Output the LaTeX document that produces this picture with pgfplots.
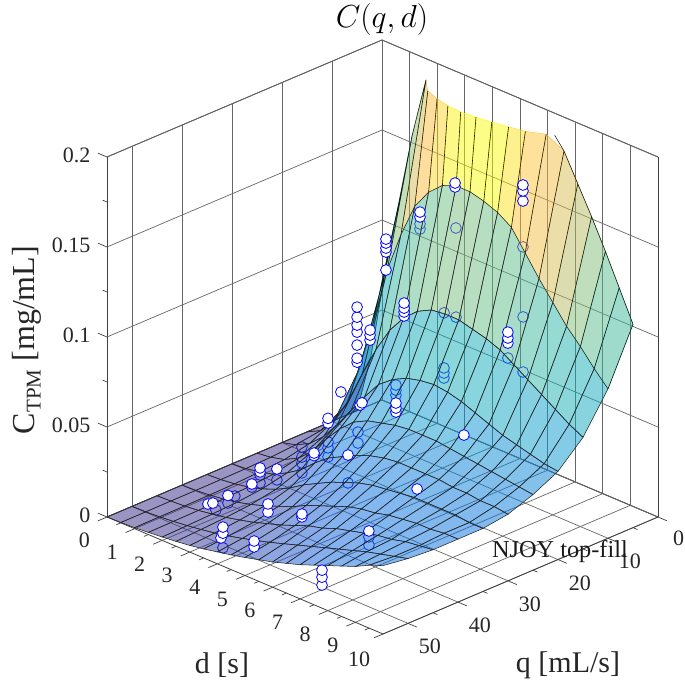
\documentclass[border=0pt]{standalone}
\usepackage{fontspec}
\setmainfont{Liberation Serif}
\usepackage{pgfplots}
\pgfplotsset{compat=1.18}
\pgfplotsset{
  colormap={parula}{rgb(0)=(0.2081,0.1663,0.5292) rgb(11)=(0.0591,0.3598,0.8683)
    rgb(16)=(0.0165,0.4266,0.8786) rgb(33)=(0.0343,0.5966,0.8199) rgb(52)=(0.0843,0.6928,0.7062)
    rgb(78)=(0.3953,0.7459,0.5244) rgb(91)=(0.7525,0.7384,0.3768) rgb(106)=(0.9938,0.7455,0.2403)
    rgb(126)=(0.9763,0.9831,0.0538)},
  dots/.style={only marks, mark=*, mark size=5.4pt,
    mark options={fill=white, draw=blue, line width=0.8pt}},
  dotsback/.style={only marks, mark=*, mark size=5.4pt,
    mark options={fill=white, draw=blue, line width=0.8pt}},
}
\tikzset{tk/.style={black!75, line width=0.7pt}}
\begin{document}
\begin{tikzpicture}
\path[use as bounding box] (0pt,0pt) rectangle (685pt,681pt);
\begin{axis}[
    at={(382pt,281pt)},
    anchor=origin,
    x={(-5pt,-2.127pt)},
    y={(27.6pt,-11.7pt)},
    z={(0pt,1800pt)},
    xmin=0, xmax=55, ymin=0, ymax=10, zmin=0, zmax=0.2,
    clip=false,
    clip marker paths=true,
    grid=major,
    major grid style={black!60, line width=0.7pt},
    axis line style={black!75, line width=0.8pt},
    tick style={draw=none},
    major tick length=0pt,
    minor tick length=0pt,
    xtick={0,10,...,50},
    ytick={0,1,...,10},
    ztick={0,0.05,0.1,0.15,0.2},
    zticklabels={0,0.05,0.1,0.15,0.2},
    scaled z ticks=false,
    /pgf/number format/assume math mode=true,
    ticklabel style={font=\fontsize{22}{24}\selectfont, text=black!85},
    xticklabel style={xshift=13pt, yshift=-10pt},
    yticklabel style={xshift=-15pt, yshift=-12pt},
    zticklabel style={xshift=-13pt, yshift=1.5pt},
    point meta min=0,
    point meta max=0.25,
    colormap name=parula,
]
% tick marks on the front edges only
\pgfplotsinvokeforeach{0,10,20,30,40,50}{\draw[tk] (axis cs:#1,10,0) -- (axis cs:#1,10.32,0);}
\pgfplotsinvokeforeach{5,15,25,35,45}{\draw[tk] (axis cs:#1,10,0) -- (axis cs:#1,10.16,0);}
\pgfplotsinvokeforeach{0,1,2,3,4,5,6,7,8,9,10}{\draw[tk] (axis cs:55,#1,0) -- (axis cs:56.8,#1,0);}
\pgfplotsinvokeforeach{0.5,1.5,2.5,3.5,4.5,5.5,6.5,7.5,8.5,9.5}{\draw[tk] (axis cs:55,#1,0) -- (axis cs:55.9,#1,0);}
\pgfplotsinvokeforeach{0,0.05,0.1,0.15,0.2}{\draw[tk] (axis cs:55,0,#1) -- (axis cs:55,-0.33,#1);}
\pgfplotsinvokeforeach{0.025,0.075,0.125,0.175}{\draw[tk] (axis cs:55,0,#1) -- (axis cs:55,-0.16,#1);}
% circles under the surface
\addplot3[dotsback] table[x=q,y=d,z=c] {
q d c
11 7.1 0.1442
11 3.37 0.1299
11 3.37 0.1327
11 4.67 0.1389
16.5 5.24 0.102
16.5 5.67 0.1024
16.5 7.55 0.0919
16.5 8.1 0.0877
16.5 8.1 0.1183
22 6.23 0.0787
22 6.23 0.0815
22 6.23 0.0843
22 4.49 0.0579
22 4.49 0.0607
22 4.49 0.0635
27.5 4.11 0.0353
27.5 4.11 0.0414
27.5 3.75 0.0108
38.5 6.5 0.0072
38.5 6.5 0.0117
22 2.03 0.0076
22 2.03 0.0126
22 2.03 0.0159
27.5 2.08 0.0055
27.5 2.08 0.011
27.5 2.08 0.0143
27.5 2.08 0.0199
33 2.17 0.0087
33 1.56 0.0031
33 1.56 0.0075
38.5 2.26 0.0118
44 2.64 0.0158
44 2.39 0.0103
49.5 2.95 0.0166
55 4.2 0.0102
};
% band next to the lowest flow, cut off at the top of the axis
\addplot3[surf, shader=flat corner, draw=none, fill opacity=0.5, point meta=explicit, mesh/ordering=y varies]
  table[x=q,y=d,z=z,meta=c] {
q d z c
5 0 0 0
5 0.5 0.033 0.033
5 1 0.082 0.082
5 1.5 0.124 0.124
5 2 0.166 0.166
5 2.5 0.2 0.19
7.4 3 0.2 0.21
8.3 3.5 0.2 0.225
8.9 4 0.2 0.245
9.1 4.5 0.2 0.25
8.8 5 0.2 0.25
8.4 5.5 0.2 0.25
7.8 6 0.2 0.235
7.2 6.5 0.2 0.215
5.8 7 0.2 0.205
5 7.5 0.193 0.193
5 8 0.178 0.178
5 8.5 0.163 0.163
5 9 0.147 0.147
5 9.5 0.13 0.13
5 10 0.113 0.113

10 0 0 0
10 0.5 0.012 0.012
10 1 0.036 0.036
10 1.5 0.065 0.065
10 2 0.097 0.097
10 2.5 0.12 0.12
10 3 0.139 0.139
10 3.5 0.15 0.15
10 4 0.157 0.157
10 4.5 0.16 0.16
10 5 0.16 0.16
10 5.5 0.158 0.158
10 6 0.155 0.155
10 6.5 0.15 0.15
10 7 0.139 0.139
10 7.5 0.128 0.128
10 8 0.118 0.118
10 8.5 0.108 0.108
10 9 0.1 0.1
10 9.5 0.091 0.091
10 10 0.083 0.083
};
% mesh lines of that band, without its cut edge
\addplot3[black, line width=0.6pt, empty line=jump, opacity=0.85] table[x=q,y=d,z=z] {
q d z
10 0 0
5 0 0
5 0.5 0.033
5 1 0.082
5 1.5 0.124
5 2 0.166
5 2.5 0.2

10 0.5 0.012
5 0.5 0.033

10 1 0.036
5 1 0.082

10 1.5 0.065
5 1.5 0.124

10 2 0.097
5 2 0.166

10 2.5 0.12
5 2.5 0.2

10 3 0.139
7.4 3 0.2

10 3.5 0.15
8.3 3.5 0.2

10 4 0.157
8.9 4 0.2

10 4.5 0.16
9.1 4.5 0.2

10 5 0.16
8.8 5 0.2

10 5.5 0.158
8.4 5.5 0.2

10 6 0.155
7.8 6 0.2

10 6.5 0.15
7.2 6.5 0.2

10 7 0.139
5.8 7 0.2

5.2 7.2 0.2
5 7.5 0.193
5 8 0.178
5 8.5 0.163
5 9 0.147
5 9.5 0.13
5 10 0.113
10 10 0.083

10 7.5 0.128
5 7.5 0.193

10 8 0.118
5 8 0.178

10 8.5 0.108
5 8.5 0.163

10 9 0.1
5 9 0.147

10 9.5 0.091
5 9.5 0.13
};
% rest of the surface
\addplot3[surf, shader=flat corner, draw=black!85, line width=0.55pt, fill opacity=0.5, point meta=z, mesh/ordering=y varies]
  table[x=q,y=d,z=z] {
q d z
10 0 0
10 0.5 0.012
10 1 0.036
10 1.5 0.065
10 2 0.097
10 2.5 0.12
10 3 0.139
10 3.5 0.15
10 4 0.157
10 4.5 0.16
10 5 0.16
10 5.5 0.158
10 6 0.155
10 6.5 0.15
10 7 0.139
10 7.5 0.128
10 8 0.118
10 8.5 0.108
10 9 0.1
10 9.5 0.091
10 10 0.083

15 0 0
15 0.5 0.004
15 1 0.013
15 1.5 0.027
15 2 0.045
15 2.5 0.062
15 3 0.076
15 3.5 0.086
15 4 0.093
15 4.5 0.097
15 5 0.098
15 5.5 0.098
15 6 0.096
15 6.5 0.094
15 7 0.091
15 7.5 0.086
15 8 0.081
15 8.5 0.076
15 9 0.071
15 9.5 0.066
15 10 0.062

20 0 0
20 0.5 0.002
20 1 0.006
20 1.5 0.013
20 2 0.023
20 2.5 0.034
20 3 0.045
20 3.5 0.055
20 4 0.061
20 4.5 0.065
20 5 0.067
20 5.5 0.068
20 6 0.067
20 6.5 0.065
20 7 0.062
20 7.5 0.059
20 8 0.056
20 8.5 0.054
20 9 0.052
20 9.5 0.05
20 10 0.049

25 0 0
25 0.5 0.001
25 1 0.003
25 1.5 0.007
25 2 0.014
25 2.5 0.024
25 3 0.033
25 3.5 0.04
25 4 0.044
25 4.5 0.046
25 5 0.048
25 5.5 0.049
25 6 0.049
25 6.5 0.049
25 7 0.048
25 7.5 0.047
25 8 0.046
25 8.5 0.045
25 9 0.044
25 9.5 0.043
25 10 0.042

30 0 0
30 0.5 0.0006
30 1 0.002
30 1.5 0.004
30 2 0.008
30 2.5 0.013
30 3 0.02
30 3.5 0.026
30 4 0.03
30 4.5 0.034
30 5 0.037
30 5.5 0.039
30 6 0.04
30 6.5 0.04
30 7 0.04
30 7.5 0.04
30 8 0.039
30 8.5 0.039
30 9 0.038
30 9.5 0.038
30 10 0.037

35 0 0
35 0.5 0.0004
35 1 0.0013
35 1.5 0.0028
35 2 0.005
35 2.5 0.008
35 3 0.012
35 3.5 0.017
35 4 0.021
35 4.5 0.025
35 5 0.028
35 5.5 0.031
35 6 0.033
35 6.5 0.034
35 7 0.035
35 7.5 0.036
35 8 0.036
35 8.5 0.036
35 9 0.036
35 9.5 0.035
35 10 0.035

40 0 0
40 0.5 0.0003
40 1 0.001
40 1.5 0.002
40 2 0.0035
40 2.5 0.0055
40 3 0.008
40 3.5 0.011
40 4 0.014
40 4.5 0.018
40 5 0.021
40 5.5 0.024
40 6 0.027
40 6.5 0.029
40 7 0.03
40 7.5 0.032
40 8 0.033
40 8.5 0.034
40 9 0.034
40 9.5 0.035
40 10 0.035

45 0 0
45 0.5 0.0003
45 1 0.0008
45 1.5 0.0016
45 2 0.0028
45 2.5 0.0042
45 3 0.006
45 3.5 0.008
45 4 0.0105
45 4.5 0.013
45 5 0.016
45 5.5 0.019
45 6 0.021
45 6.5 0.024
45 7 0.026
45 7.5 0.028
45 8 0.03
45 8.5 0.031
45 9 0.033
45 9.5 0.034
45 10 0.035

50 0 0
50 0.5 0.0002
50 1 0.0007
50 1.5 0.0014
50 2 0.0023
50 2.5 0.0034
50 3 0.0047
50 3.5 0.0063
50 4 0.0082
50 4.5 0.0103
50 5 0.0125
50 5.5 0.015
50 6 0.0175
50 6.5 0.02
50 7 0.0225
50 7.5 0.025
50 8 0.0275
50 8.5 0.03
50 9 0.032
50 9.5 0.034
50 10 0.036

55 0 0
55 0.5 0.0002
55 1 0.0006
55 1.5 0.0012
55 2 0.0019
55 2.5 0.0027
55 3 0.0037
55 3.5 0.005
55 4 0.0066
55 4.5 0.0082
55 5 0.01
55 5.5 0.012
55 6 0.014
55 6.5 0.0165
55 7 0.019
55 7.5 0.022
55 8 0.025
55 8.5 0.028
55 9 0.031
55 9.5 0.035
55 10 0.038
};
% circles in front of the surface
\addplot3[dots] table[x=q,y=d,z=c] {
q d c
11 4.64 0.1615
11 4.64 0.1637
11 7.1 0.1697
11 7.1 0.1753
11 7.1 0.1786
11 3.37 0.1366
11 3.37 0.1393
5.5 1.14 0.0861
5.5 1.14 0.0961
5.5 1.14 0.0983
5.5 1.14 0.1011
5.5 1.14 0.1033
11 1.09 0.0411
11 1.09 0.0433
11 1.09 0.0506
11 1.09 0.0578
11 1.09 0.0617
11 1.09 0.0661
11 1.09 0.0717
11 1.56 0.0564
11 1.56 0.0592
11 1.56 0.062
16.5 3.79 0.0908
16.5 3.79 0.093
16.5 3.79 0.0952
16.5 3.79 0.098
16.5 7.55 0.1002
16.5 7.55 0.103
16.5 7.55 0.1063
22 4.49 0.0485
22 4.49 0.0507
22 4.49 0.0535
22 3.19 0.0439
22 3.26 0.0456
27.5 7.95 0.0647
27.5 3.75 0.0263
33 7.25 0.0367
38.5 6.5 0.015
22 2.03 0.0264
22 2.03 0.029
16.5 1.5 0.0337
27.5 2.52 0.018
27.5 2.52 0.0194
33 2.17 0.0148
33 1.56 0.0092
33 1.56 0.0114
38.5 2.26 0.0135
44 2.39 0.0145
49.5 2.66 0.018
49.5 2.84 0.0197
44 3.84 0.0147
44 3.84 0.0192
44 5.07 0.02
44 5.07 0.0216
55 4.13 0.0152
55 4.2 0.0183
55 4.2 0.0217
55 5.33 0.018
55 5.33 0.0213
55 7.79 0.0128
55 7.79 0.0172
55 7.79 0.0211
};
\end{axis}
\node[scale=1.28] at (382pt,661pt) {\fontsize{34}{36}\selectfont $C(q,d)$};
\node[rotate=90, text=black!85] at (27pt,341pt) {\fontsize{32}{34}\selectfont C{\fontsize{21}{22}\selectfont\raisebox{-6pt}{TPM}} [mg/mL]};
\node[text=black!85] at (222pt,16pt) {\fontsize{30}{32}\selectfont d [s]};
\node[text=black!85] at (568pt,16pt) {\fontsize{30}{32}\selectfont q [mL/s]};
\node[text=black!90] at (560pt,129pt) {\fontsize{24.3}{26}\selectfont NJOY top-fill};
\end{tikzpicture}
\end{document}
